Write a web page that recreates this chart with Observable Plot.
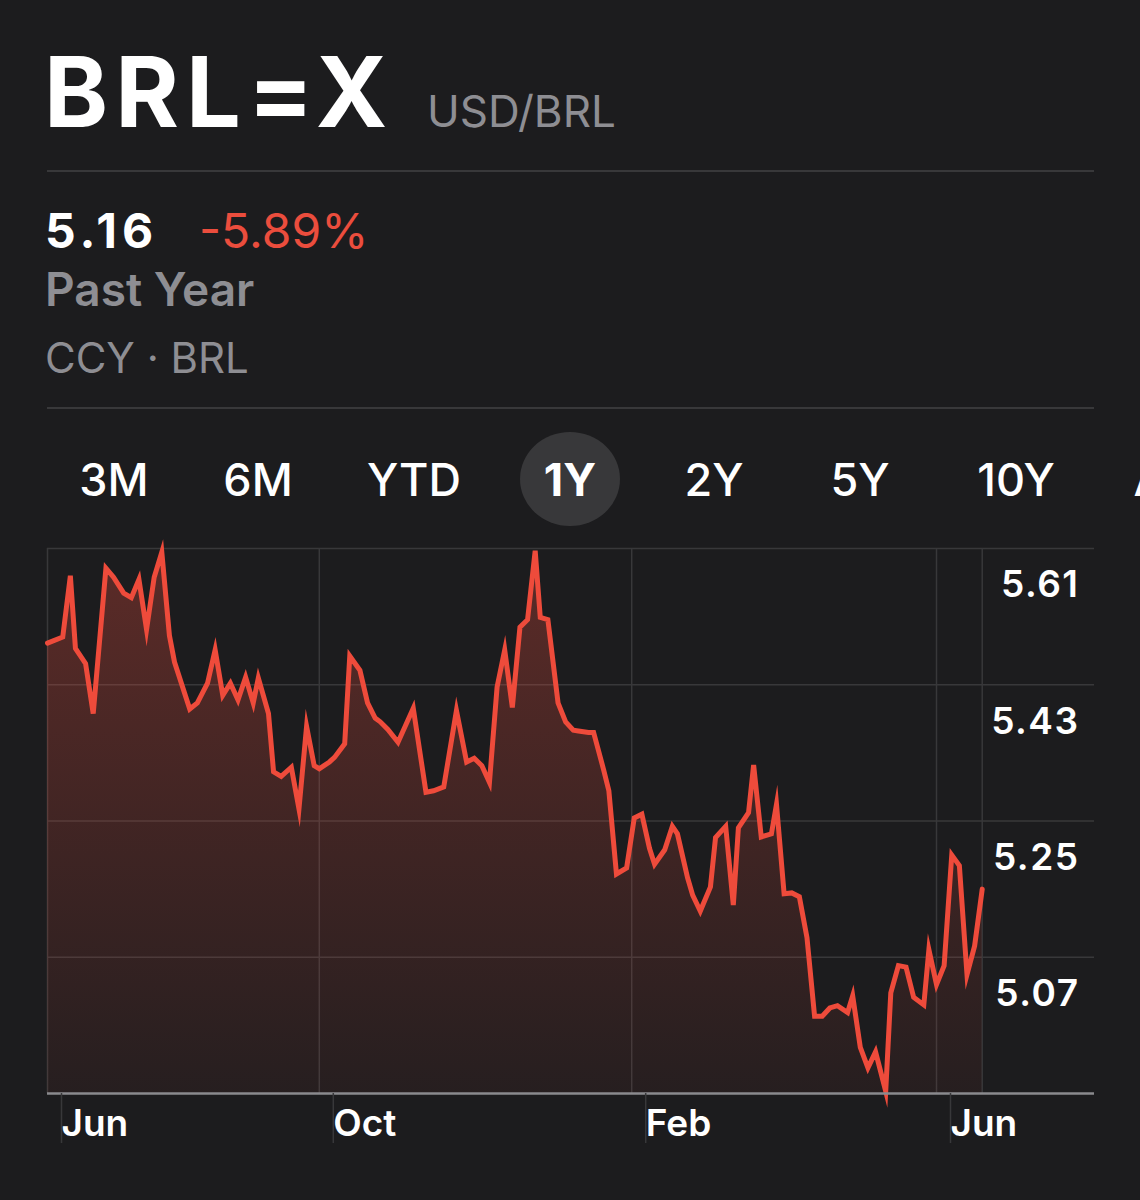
<!DOCTYPE html>
<html>
<head>
<meta charset="utf-8">
<script src="https://cdn.jsdelivr.net/npm/d3@7"></script>
<script src="https://cdn.jsdelivr.net/npm/@observablehq/plot@0.6"></script>
<style>
  html, body { margin: 0; padding: 0; background: #1c1c1e; }
  #page { position: relative; width: 1140px; height: 1200px; overflow: hidden; background: #1c1c1e; font-family: Inter, "Noto Sans", sans-serif; }
  .t { position: absolute; white-space: nowrap; line-height: 1; }
  .sep { position: absolute; left: 47px; width: 1047px; height: 2px; background: #38383a; }
  .pill { position: absolute; border-radius: 50%; background: #38383a; }
  #chart { position: absolute; left: 0; top: 540px; }
  #chart g[aria-label="text"] text { letter-spacing: 1.5px; }
</style>
</head>
<body>
<div id="page"></div>
<script>
// ---- Header text ----
const symbol = "BRL=X";
const pairName = "USD/BRL";
const lastPrice = "5.16";
const changePct = "-5.89%";
const periodLabel = "Past Year";
const exchangeLabel = "CCY · BRL";
const tabs = ["3M", "6M", "YTD", "1Y", "2Y", "5Y", "10Y", "ALL"];
const activeTab = "1Y";

// ---- Series: day offset from first sample, USD/BRL close ----
const startDate = "2020-06-16";
const days = [0,6,9,11,15,18,23,26,30,33,
  36,39,42,45,48,50,56,59,63,66,
  69,72,75,78,81,83,87,89,92,96,
  99,102,105,107,111,113,117,119,123,126,
  129,131,134,138,144,149,152,156,161,165,
  168,171,174,177,180,183,186,189,192,194,
  197,201,204,207,209,213,215,219,221,224,
  228,231,234,237,239,243,246,248,252,254,
  257,261,263,267,270,272,276,278,281,285,
  287,290,293,296,299,302,305,308,311,315,
  317,320,323,326,330,332,335,338,341,345,
  347,350,353,356,359,362,365,368];
const values = [5.485,5.493,5.574,5.478,5.458,5.392,5.584,5.572,5.551,5.545,
  5.569,5.503,5.572,5.605,5.495,5.460,5.398,5.406,5.432,5.476,
  5.416,5.432,5.410,5.440,5.406,5.439,5.392,5.315,5.309,5.321,
  5.266,5.375,5.323,5.319,5.328,5.334,5.352,5.468,5.449,5.406,
  5.386,5.381,5.371,5.354,5.399,5.288,5.290,5.295,5.396,5.328,
  5.333,5.323,5.301,5.427,5.476,5.400,5.506,5.516,5.607,5.519,
  5.516,5.406,5.381,5.370,5.369,5.367,5.367,5.317,5.290,5.180,
  5.188,5.254,5.259,5.214,5.193,5.212,5.243,5.233,5.175,5.152,
  5.131,5.163,5.228,5.243,5.139,5.241,5.261,5.324,5.229,5.233,
  5.272,5.154,5.155,5.150,5.096,4.992,4.992,5.003,5.006,4.997,
  5.019,4.951,4.924,4.945,4.893,5.023,5.059,5.057,5.017,5.007,
  5.080,5.034,5.059,5.205,5.191,5.047,5.085,5.160];

// ---- Axis ticks ----
const yTicks = [5.61, 5.43, 5.25, 5.07];
const yFloor = 4.89;
const xTickDates = ["2020-06-16", "2020-10-01", "2021-02-01", "2021-06-01"];
const xDomainEnd = "2021-08-02T04:48:00Z";

// ---- Build page ----
const page = document.getElementById("page");
function addText(str, o) {
  const d = document.createElement("div");
  d.className = "t";
  d.textContent = str;
  d.style.fontSize = o.size + "px";
  d.style.fontWeight = o.weight || 400;
  d.style.color = o.color || "#fff";
  if (o.spacing) d.style.letterSpacing = o.spacing + "px";
  d.style.top = (o.baseline - 0.864 * o.size) + "px";
  if (o.center != null) { d.style.left = o.center + "px"; d.style.transform = "translateX(-50%)"; }
  else d.style.left = o.left + "px";
  page.appendChild(d);
  return d;
}
function addSep(top) {
  const s = document.createElement("div");
  s.className = "sep"; s.style.top = top + "px"; page.appendChild(s);
}

addText(symbol, {left: 44, baseline: 127, size: 97, weight: 700, spacing: 7});
addText(pairName, {left: 427, baseline: 127, size: 44, weight: 400, color: "#8e8e93"});
addSep(170);
addText(lastPrice, {left: 45, baseline: 248, size: 48, weight: 700, spacing: 5});
addText(changePct, {left: 199, baseline: 248, size: 48, weight: 400, color: "#eb4d3d"});
addText(periodLabel, {left: 45, baseline: 306, size: 46, weight: 600, color: "#8e8e93"});
addText(exchangeLabel, {left: 45, baseline: 373, size: 42, weight: 400, color: "#8e8e93"});
addSep(407);

const tabCenters = [114, 258, 414, 570, 714, 860, 1016, 1175];
const pill = document.createElement("div");
pill.className = "pill";
const ai = tabs.indexOf(activeTab);
pill.style.left = (tabCenters[ai] - 50) + "px";
pill.style.top = "432px";
pill.style.width = "100px";
pill.style.height = "94px";
page.appendChild(pill);
tabs.forEach((t, i) => addText(t, {center: tabCenters[i], baseline: 496, size: 45, weight: t === activeTab ? 700 : 500}));

// ---- Chart ----
const DAY = 864e5;
const t0 = new Date(startDate + "T00:00:00Z").getTime();
const data = days.map((d, i) => ({date: new Date(t0 + d * DAY), value: values[i]}));
const xTicks = xTickDates.map(s => new Date(s + "T00:00:00Z"));
const last = data[data.length - 1];
const grid = "#38383a";

const chart = Plot.plot({
  width: 1140, height: 610,
  marginTop: 8, marginBottom: 57, marginLeft: 47, marginRight: 46,
  style: {background: "transparent", color: "#fff", fontFamily: "Inter, sans-serif", fontSize: "38px", fontWeight: 600, overflow: "visible"},
  x: {type: "utc", domain: [new Date(t0), new Date(xDomainEnd)]},
  y: {domain: [yFloor, yTicks[0]], axis: null},
  marks: [
    Plot.gridY({ticks: yTicks, stroke: grid, strokeOpacity: 1, strokeWidth: 1.5}),
    Plot.gridX({ticks: xTicks, stroke: grid, strokeOpacity: 1, strokeWidth: 1.5}),
    Plot.ruleX([last], {x: "date", stroke: grid, strokeWidth: 1.5}),
    Plot.areaY(data, {x: "date", y1: yFloor, y2: "value", fill: "url(#brlFill)"}),
    Plot.lineY(data, {x: "date", y: "value", stroke: "#ee4b3b", strokeWidth: 5, strokeLinejoin: "miter", strokeMiterlimit: 8}),
    Plot.ruleY([yFloor], {stroke: "#8a8a8e", strokeWidth: 2.5}),
    Plot.axisX({ticks: xTicks, tickSize: 50, tickPadding: -34, tickFormat: d3.utcFormat("%b"),
      textAnchor: "start", dx: 14, stroke: grid, strokeWidth: 1.5, fill: "#fff", fontSize: 37, fontWeight: 600}),
    Plot.text(yTicks, {y: d => d, frameAnchor: "right", textAnchor: "end", dx: -15, dy: 37,
      text: d => d3.format(".2f")(d), fill: "#fff", fontSize: 37, fontWeight: 600})
  ]
});
chart.id = "chart";
const ys = chart.scale("y");
const defs = d3.select(chart).insert("defs", ":first-child");
const lg = defs.append("linearGradient").attr("id", "brlFill")
  .attr("gradientUnits", "userSpaceOnUse")
  .attr("x1", 0).attr("x2", 0)
  .attr("y1", ys.apply(yTicks[0])).attr("y2", ys.apply(yFloor));
lg.append("stop").attr("offset", 0).attr("stop-color", "#eb4d3d").attr("stop-opacity", 0.31);
lg.append("stop").attr("offset", 1).attr("stop-color", "#eb4d3d").attr("stop-opacity", 0.05);
page.appendChild(chart);
</script>
</body>
</html>
